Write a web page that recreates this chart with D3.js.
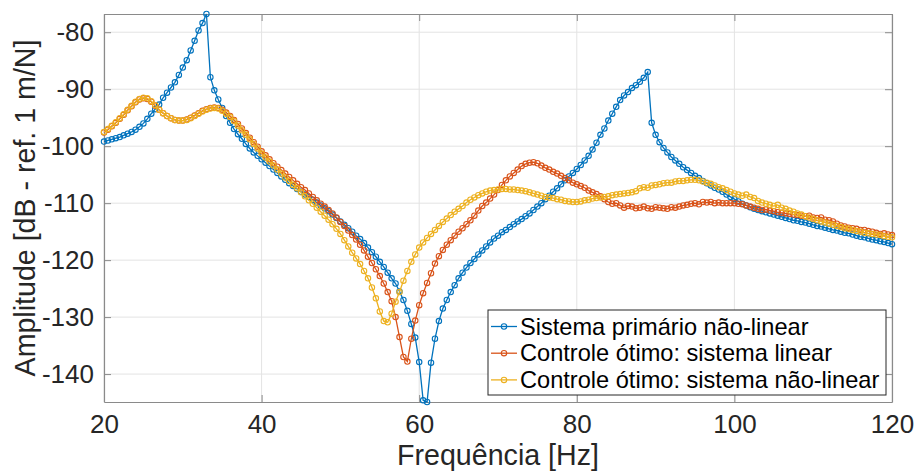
<!DOCTYPE html>
<html>
<head>
<meta charset="utf-8">
<script src="https://cdn.jsdelivr.net/npm/d3@7"></script>
<style>
  body { margin: 0; background: #fff; }
  svg { font-family: "Liberation Sans", Arial, sans-serif; }
</style>
</head>
<body>
<svg></svg>
<script>
// frequências (Hz), passo de 0.5 Hz
const freq = d3.range(201).map(i => 20 + i * 0.5);

// Sistema primário não-linear
const primario = [
  -99.2, -99.0, -98.8, -98.6, -98.4, -98.1, -97.8, -97.5, -97.1, -96.6,
  -96.0, -95.2, -94.3, -93.5, -92.7, -91.5, -90.6, -89.7, -88.8, -87.5,
  -86.2, -84.9, -83.2, -81.5, -79.7, -78.4, -76.8, -87.9, -90.2, -91.8,
  -93.3, -94.7, -95.9, -97.0, -97.9, -98.7, -99.6, -100.4, -101.1, -101.7,
  -102.3, -102.9, -103.5, -104.1, -104.7, -105.3, -105.9, -106.5, -107.0, -107.5,
  -108.0, -108.5, -108.9, -109.4, -109.9, -110.4, -110.9, -111.4, -112.0, -112.6,
  -113.2, -113.8, -114.4, -115.0, -115.7, -116.3, -117.0, -117.8, -118.6, -119.4,
  -120.3, -121.2, -122.2, -123.2, -124.1, -125.5, -127.0, -128.9, -131.2, -133.6,
  -137.9, -144.6, -144.9, -138.0, -133.8, -130.7, -128.5, -127.0, -125.6, -124.4,
  -123.2, -122.2, -121.3, -120.5, -119.8, -119.0, -118.3, -117.6, -116.9, -116.2,
  -115.7, -115.1, -114.7, -114.2, -113.7, -113.2, -112.8, -112.3, -111.8, -111.2,
  -110.6, -110.0, -109.3, -108.7, -108.0, -107.4, -106.7, -106.0, -105.3, -104.7,
  -104.0, -103.3, -102.5, -101.7, -100.6, -99.4, -98.0, -96.9, -95.5, -94.3,
  -93.1, -91.9, -91.1, -90.5, -89.8, -89.3, -88.7, -88.0, -87.0, -95.9,
  -98.0, -99.3, -100.3, -101.1, -101.9, -102.5, -103.1, -103.7, -104.2, -104.7,
  -105.2, -105.6, -106.1, -106.5, -106.9, -107.3, -107.6, -108.0, -108.5, -108.9,
  -109.3, -109.7, -110.1, -110.4, -110.7, -111.0, -111.2, -111.4, -111.6, -111.8,
  -112.0, -112.2, -112.4, -112.6, -112.8, -113.0, -113.1, -113.3, -113.4, -113.6,
  -113.8, -114.0, -114.1, -114.3, -114.5, -114.7, -114.8, -115.0, -115.2, -115.3,
  -115.5, -115.7, -115.9, -116.0, -116.2, -116.4, -116.5, -116.7, -116.8, -117.0,
  -117.2
];

// Controle ótimo: sistema linear
const ctrlLinear = [
  -97.6, -97.1, -96.5, -95.9, -95.2, -94.5, -93.7, -93.0, -92.3, -91.8,
  -91.6, -91.7, -92.2, -92.9, -93.6, -94.2, -94.7, -95.1, -95.4, -95.5,
  -95.5, -95.3, -95.0, -94.6, -94.2, -93.8, -93.5, -93.3, -93.2, -93.3,
  -93.6, -94.1, -94.7, -95.4, -96.1, -96.9, -97.7, -98.5, -99.3, -100.1,
  -100.9, -101.6, -102.3, -103.0, -103.6, -104.2, -104.8, -105.4, -106.0, -106.6,
  -107.2, -107.7, -108.3, -108.9, -109.5, -110.1, -110.6, -111.2, -111.8, -112.5,
  -113.3, -114.0, -114.8, -115.6, -116.4, -117.3, -118.3, -119.4, -120.5, -121.6,
  -122.8, -124.1, -125.6, -127.2, -130.0, -133.5, -137.0, -137.8, -133.8, -130.6,
  -127.9, -125.8, -124.0, -122.3, -120.6, -119.3, -118.2, -117.3, -116.5, -115.7,
  -115.0, -114.4, -113.7, -113.0, -112.2, -111.3, -110.5, -109.9, -109.2, -108.5,
  -107.7, -106.8, -106.0, -105.3, -104.7, -104.1, -103.5, -103.1, -102.9, -102.8,
  -103.0, -103.4, -103.8, -104.1, -104.5, -104.8, -105.2, -105.6, -106.0, -106.4,
  -106.7, -107.0, -107.3, -107.8, -108.1, -108.4, -108.8, -109.3, -109.8, -110.1,
  -110.0, -110.4, -110.8, -110.5, -110.6, -110.9, -110.8, -110.6, -110.9, -111.0,
  -110.7, -110.8, -110.9, -111.0, -110.7, -110.8, -110.6, -110.4, -110.3, -110.1,
  -110.0, -110.2, -109.8, -109.9, -109.8, -110.0, -109.9, -110.0, -110.0, -110.0,
  -110.0, -110.1, -110.2, -110.4, -110.6, -110.8, -111.0, -111.2, -111.1, -111.3,
  -111.4, -111.6, -111.7, -111.8, -111.9, -112.0, -112.1, -112.2, -112.3, -112.2,
  -112.5, -112.6, -112.5, -112.9, -113.0, -113.2, -113.6, -113.9, -114.1, -114.3,
  -114.4, -114.5, -114.7, -114.7, -114.9, -115.0, -115.2, -115.4, -115.3, -115.5,
  -115.6
];

// Controle ótimo: sistema não-linear
const ctrlNaoLinear = [
  -97.5, -97.0, -96.4, -95.8, -95.1, -94.4, -93.6, -92.9, -92.2, -91.7,
  -91.5, -91.6, -92.1, -92.8, -93.6, -94.2, -94.7, -95.1, -95.4, -95.5,
  -95.5, -95.4, -95.1, -94.7, -94.3, -93.9, -93.6, -93.4, -93.3, -93.4,
  -93.8, -94.3, -94.9, -95.6, -96.4, -97.2, -98.0, -98.8, -99.6, -100.4,
  -101.3, -102.0, -102.7, -103.4, -104.1, -104.8, -105.5, -106.1, -106.8, -107.4,
  -108.1, -108.8, -109.5, -110.1, -110.8, -111.5, -112.2, -112.9, -113.7, -114.5,
  -115.4, -116.5, -117.6, -118.7, -119.7, -120.7, -121.9, -123.2, -124.8, -126.7,
  -129.0, -130.7, -130.9, -129.4, -127.3, -125.6, -123.6, -121.9, -120.3, -119.0,
  -117.8, -116.9, -116.1, -115.4, -114.7, -114.0, -113.3, -112.7, -112.1, -111.5,
  -111.0, -110.5, -109.9, -109.4, -109.0, -108.6, -108.3, -108.0, -107.8, -107.7,
  -107.6, -107.5, -107.5, -107.6, -107.6, -107.7, -107.8, -107.9, -108.1, -108.3,
  -108.5, -108.7, -108.9, -109.0, -109.1, -109.3, -109.4, -109.6, -109.7, -109.8,
  -109.8, -109.7, -109.5, -109.4, -109.2, -109.1, -109.0, -108.9, -108.8, -108.6,
  -108.5, -108.4, -108.3, -108.2, -108.1, -107.9, -107.4, -107.2, -107.3, -106.9,
  -106.8, -106.7, -106.5, -106.4, -106.4, -106.2, -106.1, -106.1, -106.0, -105.9,
  -105.9, -106.0, -106.2, -106.4, -106.6, -106.9, -107.2, -107.4, -107.7, -108.0,
  -108.3, -108.5, -108.7, -108.5, -108.9, -109.1, -109.6, -109.9, -110.1, -110.3,
  -110.5, -110.3, -110.8, -111.0, -111.3, -111.5, -111.8, -112.0, -112.3, -112.5,
  -112.8, -113.0, -113.2, -113.4, -113.6, -113.8, -114.0, -114.2, -114.4, -114.5,
  -114.7, -114.9, -115.0, -115.2, -115.3, -115.4, -115.5, -115.6, -115.8, -115.9,
  -116.0
];

const nomes = [
  "Sistema primário não-linear",
  "Controle ótimo: sistema linear",
  "Controle ótimo: sistema não-linear"
];
const cores = ["#0072BD", "#D95319", "#EDB120"];
const xTicks = [20, 40, 60, 80, 100, 120];
const yTicks = [-140, -130, -120, -110, -100, -90, -80];

const series = [primario, ctrlLinear, ctrlNaoLinear].map((vals, k) => ({
  nome: nomes[k],
  cor: cores[k],
  pontos: vals.map((v, i) => ({ f: freq[i], a: v }))
}));

// dimensões
const width = 916, height = 473;
const margin = { top: 14, right: 24, bottom: 71, left: 104 };
const iw = width - margin.left - margin.right;
const ih = height - margin.top - margin.bottom;

const svg = d3.select("svg").attr("width", width).attr("height", height);
const g = svg.append("g").attr("transform", `translate(${margin.left},${margin.top})`);

// escalas (eixo "tight" em y, como no MATLAB)
const x = d3.scaleLinear().domain([20, 120]).range([0, iw]);
const todos = series.flatMap(s => s.pontos.map(p => p.a));
const y = d3.scaleLinear().domain(d3.extent(todos)).range([ih, 0]);

// grade
g.append("g").selectAll("line").data(xTicks).join("line")
  .attr("x1", d => x(d)).attr("x2", d => x(d))
  .attr("y1", 0).attr("y2", ih)
  .attr("stroke", "#e3e3e3").attr("stroke-width", 1);
g.append("g").selectAll("line").data(yTicks).join("line")
  .attr("x1", 0).attr("x2", iw)
  .attr("y1", d => y(d)).attr("y2", d => y(d))
  .attr("stroke", "#e3e3e3").attr("stroke-width", 1);

// eixos
const tickLen = 7;
const xAxis = g.append("g").attr("transform", `translate(0,${ih})`)
  .call(d3.axisBottom(x).tickValues(xTicks).tickSizeInner(-tickLen).tickSizeOuter(0).tickPadding(13));
const yAxis = g.append("g")
  .call(d3.axisLeft(y).tickValues(yTicks).tickSizeInner(-tickLen).tickSizeOuter(0).tickPadding(10));
const xTop = g.append("g")
  .call(d3.axisTop(x).tickValues(xTicks).tickSizeInner(-tickLen).tickSizeOuter(0).tickFormat(""));
const yRight = g.append("g").attr("transform", `translate(${iw},0)`)
  .call(d3.axisRight(y).tickValues(yTicks).tickSizeInner(-tickLen).tickSizeOuter(0).tickFormat(""));

[xAxis, yAxis, xTop, yRight].forEach(a => {
  a.select(".domain").attr("stroke", "#8a8a8a").attr("stroke-width", 1.2);
  a.selectAll(".tick line").attr("stroke", "#8a8a8a");
  a.selectAll(".tick text").attr("fill", "#262626").style("font-size", "26px");
});
yAxis.selectAll(".tick text").text(d => d < 0 ? "-" + Math.abs(d) : d);

// títulos
svg.append("text")
  .attr("x", margin.left + iw / 2).attr("y", 465)
  .attr("text-anchor", "middle").attr("fill", "#262626")
  .style("font-size", "28.6px")
  .text("Frequência [Hz]");
svg.append("text")
  .attr("transform", `translate(35,${margin.top + ih / 2}) rotate(-90)`)
  .attr("text-anchor", "middle").attr("fill", "#262626")
  .style("font-size", "28.6px")
  .text("Amplitude [dB - ref. 1 m/N]");

// curvas com marcadores
const line = d3.line().x(d => x(d.f)).y(d => y(d.a));
series.forEach(s => {
  const sg = g.append("g");
  sg.append("path").datum(s.pontos)
    .attr("d", line).attr("fill", "none")
    .attr("stroke", s.cor).attr("stroke-width", 1.3);
  sg.selectAll("circle").data(s.pontos).join("circle")
    .attr("cx", d => x(d.f)).attr("cy", d => y(d.a))
    .attr("r", 2.7).attr("fill", "none")
    .attr("stroke", s.cor).attr("stroke-width", 1.1);
});

// legenda
const leg = svg.append("g").attr("transform", "translate(488,310)");
leg.append("rect").attr("width", 398).attr("height", 85)
  .attr("fill", "#fff").attr("stroke", "#262626").attr("stroke-width", 1);
series.forEach((s, i) => {
  const cy = 16.5 + i * 26.7;
  leg.append("line").attr("x1", 3).attr("x2", 29).attr("y1", cy).attr("y2", cy)
    .attr("stroke", s.cor).attr("stroke-width", 1.3);
  leg.append("circle").attr("cx", 16).attr("cy", cy).attr("r", 2.7)
    .attr("fill", "none").attr("stroke", s.cor).attr("stroke-width", 1.1);
  leg.append("text").attr("x", 32).attr("y", cy).attr("dy", "0.35em")
    .attr("fill", "#000").style("font-size", "23.6px")
    .text(s.nome);
});
</script>
</body>
</html>
